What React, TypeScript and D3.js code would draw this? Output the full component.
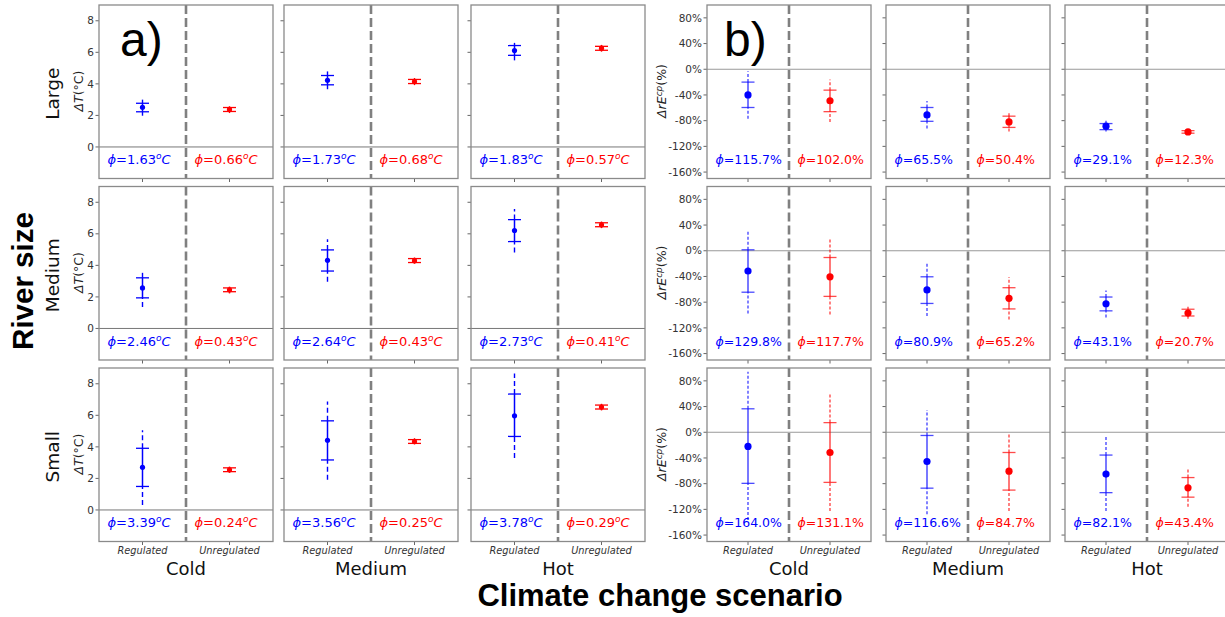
import React from 'react';
import * as d3 from 'd3';

// Facets
const riverSizes = ['Large', 'Medium', 'Small'];
const scenarios = ['Cold', 'Medium', 'Hot'];
const groups = ['Regulated', 'Unregulated'];

// ΔT (°C) — rows: river size, columns: scenario
const dTRegMean = [[2.51, 4.23, 6.11], [2.57, 4.32, 6.21], [2.70, 4.42, 5.97]];
const dTRegSd = [
  [[2.23, 2.77], [3.94, 4.53], [5.81, 6.43]],
  [[1.94, 3.21], [3.64, 4.98], [5.51, 6.90]],
  [[1.49, 3.91], [3.17, 5.65], [4.66, 7.35]],
];
const dTRegRange = [
  [[1.98, 3.0], [3.66, 4.79], [5.49, 6.6]],
  [[1.36, 3.70], [2.96, 5.66], [4.81, 7.57]],
  [[0.32, 5.05], [1.91, 6.88], [3.29, 8.65]],
];
const dTUnregMean = [[2.38, 4.15, 6.26], [2.45, 4.30, 6.57], [2.55, 4.34, 6.52]];
const dTUnregSd = [
  [[2.25, 2.50], [4.02, 4.28], [6.13, 6.38]],
  [[2.33, 2.57], [4.18, 4.43], [6.45, 6.70]],
  [[2.43, 2.67], [4.22, 4.46], [6.40, 6.65]],
];
const dTUnregRange = [
  [[2.15, 2.58], [3.92, 4.37], [6.04, 6.47]],
  [[2.22, 2.65], [4.10, 4.50], [6.36, 6.78]],
  [[2.35, 2.75], [4.15, 4.55], [6.31, 6.73]],
];
const dTRegPhi = [[1.63, 1.73, 1.83], [2.46, 2.64, 2.73], [3.39, 3.56, 3.78]];
const dTUnregPhi = [[0.66, 0.68, 0.57], [0.43, 0.43, 0.41], [0.24, 0.25, 0.29]];

// ΔrE^cp (%)
const dERegMean = [[-40, -71, -88.5], [-31.5, -61, -82.5], [-22, -45.5, -65]];
const dERegSd = [
  [[-59.5, -20], [-81, -59.5], [-94, -84.5]],
  [[-64.5, 1.5], [-82, -40.5], [-93.5, -72]],
  [[-79.5, 36.5], [-87, -5], [-94, -35.5]],
];
const dERegRange = [
  [[-77, -3], [-92, -49.5], [-97, -80]],
  [[-97.5, 32.5], [-101.5, -20], [-104, -62]],
  [[-136.5, 94], [-127.5, 34.5], [-122.5, -7.5]],
];
const dEUnregMean = [[-49, -82, -97.5], [-40.5, -74, -97], [-31.5, -60.5, -86.5]];
const dEUnregSd = [
  [[-66, -32.5], [-90.5, -73], [-99.5, -95.5]],
  [[-71, -10.5], [-90.5, -57.5], [-101.5, -91]],
  [[-78, 15], [-90, -31.5], [-101, -70.5]],
];
const dEUnregRange = [
  [[-82, -16], [-97, -66], [-101, -94]],
  [[-99, 19], [-107, -41], [-106, -87]],
  [[-122.5, 60.5], [-122.5, -0.5], [-116, -57]],
];
const dERegPhi = [[115.7, 65.5, 29.1], [129.8, 80.9, 43.1], [164.0, 116.6, 82.1]];
const dEUnregPhi = [[102.0, 50.4, 12.3], [117.7, 65.2, 20.7], [131.1, 84.7, 43.4]];

const tempTicks = [0, 2, 4, 6, 8];
const effTicks = [80, 40, 0, -40, -80, -120, -160];

const W = 1225;
const H = 617;
const FONT = '"DejaVu Sans", sans-serif';
const BOLD = '"Liberation Sans", Arial, sans-serif';
const BLUE = '#0000ff';
const RED = '#ff0000';
const FRAME = '#8a8a8a';

const rowTops = [5, 186.5, 368];
const rowH = 173.5;
const aLefts = [99, 284, 471];
const aW = 174;
const bLefts = [707, 886, 1065];
const bW = 164;

type Stat = { mean: number; sd: number[]; range: number[] };

function ErrorMark({ x, y, s, color, r, dash, alpha }: { x: number; y: d3.ScaleLinear<number, number>; s: Stat; color: string; r: number; dash: string; alpha: number }) {
  const cap = 6.5;
  return (
    <g>
      <line x1={x} x2={x} y1={y(s.range[0])} y2={y(s.sd[0])} stroke={color} strokeWidth={1.4} strokeDasharray={dash} opacity={alpha} />
      <line x1={x} x2={x} y1={y(s.sd[1])} y2={y(s.range[1])} stroke={color} strokeWidth={1.4} strokeDasharray={dash} opacity={alpha} />
      <line x1={x} x2={x} y1={y(s.sd[0])} y2={y(s.sd[1])} stroke={color} strokeWidth={1.5} opacity={alpha} />
      <line x1={x - cap} x2={x + cap} y1={y(s.sd[0])} y2={y(s.sd[0])} stroke={color} strokeWidth={1.3} opacity={alpha} />
      <line x1={x - cap} x2={x + cap} y1={y(s.sd[1])} y2={y(s.sd[1])} stroke={color} strokeWidth={1.3} opacity={alpha} />
      <circle cx={x} cy={y(s.mean)} r={r} fill={color} />
    </g>
  );
}

function PhiLabel({ x, y, value, color, kind }: { x: number; y: number; value: number; color: string; kind: 'a' | 'b' }) {
  if (kind === 'a') {
    return (
      <text x={x} y={y} fill={color} fontFamily={FONT} fontSize={13}>
        <tspan fontStyle="italic">ϕ</tspan>={value.toFixed(2)}
        <tspan fontStyle="italic" fontSize={9} dy={-5}>o</tspan>
        <tspan fontStyle="italic" dy={5}>C</tspan>
      </text>
    );
  }
  return (
    <text x={x} y={y} fill={color} fontFamily={FONT} fontSize={12.5}>
      <tspan fontStyle="italic">ϕ</tspan>={value.toFixed(1)}%
    </text>
  );
}

function Panel(props: {
  left: number; top: number; width: number; kind: 'a' | 'b';
  reg: Stat; unreg: Stat; regPhi: number; unregPhi: number;
  showY: boolean; showX: boolean;
}) {
  const { left, top, width, kind, reg, unreg, regPhi, unregPhi, showY, showX } = props;
  const bottom = top + rowH;
  const y = d3.scaleLinear().domain(kind === 'a' ? [-2, 9] : [-170, 100]).range([bottom, top]);
  const x = d3.scalePoint<string>().domain(groups).range([left, left + width]).padding(0.5);
  const ticks = kind === 'a' ? tempTicks : effTicks;
  const mid = left + width / 2;
  const dash = kind === 'a' ? '5,3' : '3,2';
  const alpha = kind === 'a' ? 1 : 0.7;
  const r = kind === 'a' ? 2.6 : 3.6;
  return (
    <g>
      <line x1={left} x2={left + width} y1={y(0)} y2={y(0)} stroke={kind === 'a' ? '#777' : '#999'} strokeWidth={1} />
      {ticks.map((t) => (
        <g key={t}>
          <line x1={left - 3.5} x2={left} y1={y(t)} y2={y(t)} stroke="#555" strokeWidth={0.9} />
          {showY && (
            <text x={left - 5} y={y(t)} dy="0.35em" textAnchor="end" fontFamily={FONT} fontSize={10.5} fill="#333">
              {kind === 'a' ? String(t) : `${t}%`}
            </text>
          )}
        </g>
      ))}
      {groups.map((g) => (
        <g key={g}>
          <line x1={x(g)} x2={x(g)} y1={bottom} y2={bottom + 3.5} stroke="#555" strokeWidth={0.9} />
          {showX && (
            <text x={x(g)} y={bottom + 12} textAnchor="middle" fontFamily={FONT} fontSize={9.8} fontStyle="italic" fill="#333">
              {g}
            </text>
          )}
        </g>
      ))}
      <line x1={mid} x2={mid} y1={top} y2={bottom} stroke="#808080" strokeWidth={2.6} strokeDasharray="9,4" />
      <ErrorMark x={x('Regulated')!} y={y} s={reg} color={BLUE} r={r} dash={dash} alpha={alpha} />
      <ErrorMark x={x('Unregulated')!} y={y} s={unreg} color={RED} r={r} dash={dash} alpha={alpha} />
      <PhiLabel x={left + 8.5} y={bottom - 14.5} value={regPhi} color={BLUE} kind={kind} />
      <PhiLabel x={mid + 8.5} y={bottom - 14.5} value={unregPhi} color={RED} kind={kind} />
      <rect x={left} y={top} width={width} height={rowH} fill="none" stroke={FRAME} strokeWidth={1.3} />
    </g>
  );
}

export default function App() {
  const panels: React.ReactNode[] = [];
  riverSizes.forEach((_, ri) => {
    scenarios.forEach((sc, ci) => {
      panels.push(
        <Panel
          key={`a-${ri}-${ci}`}
          left={aLefts[ci]} top={rowTops[ri]} width={aW} kind="a"
          reg={{ mean: dTRegMean[ri][ci], sd: dTRegSd[ri][ci], range: dTRegRange[ri][ci] }}
          unreg={{ mean: dTUnregMean[ri][ci], sd: dTUnregSd[ri][ci], range: dTUnregRange[ri][ci] }}
          regPhi={dTRegPhi[ri][ci]} unregPhi={dTUnregPhi[ri][ci]}
          showY={ci === 0} showX={ri === riverSizes.length - 1}
        />,
      );
      panels.push(
        <Panel
          key={`b-${ri}-${ci}`}
          left={bLefts[ci]} top={rowTops[ri]} width={bW} kind="b"
          reg={{ mean: dERegMean[ri][ci], sd: dERegSd[ri][ci], range: dERegRange[ri][ci] }}
          unreg={{ mean: dEUnregMean[ri][ci], sd: dEUnregSd[ri][ci], range: dEUnregRange[ri][ci] }}
          regPhi={dERegPhi[ri][ci]} unregPhi={dEUnregPhi[ri][ci]}
          showY={ci === 0} showX={ri === riverSizes.length - 1}
        />,
      );
    });
  });

  return (
    <svg width={W} height={H} viewBox={`0 0 ${W} ${H}`} style={{ position: 'absolute', left: 0, top: 0, background: '#fff' }}>
      <rect width={W} height={H} fill="#fff" />
      {panels}

      {/* row labels and per-row y-axis titles */}
      {riverSizes.map((s, ri) => {
        const cy = rowTops[ri] + rowH / 2 + 2;
        const ya = rowTops[ri] + 86;
        return (
          <g key={s}>
            <text transform={`translate(59,${cy}) rotate(-90)`} textAnchor="middle" fontFamily={FONT} fontSize={18.5} fill="#111">{s}</text>
            <text transform={`translate(83,${ya}) rotate(-90)`} textAnchor="middle" fontFamily={FONT} fontSize={12.5} fill="#222">
              <tspan fontStyle="italic">ΔT</tspan>(°C)
            </text>
            <text transform={`translate(666,${ya}) rotate(-90)`} textAnchor="middle" fontFamily={FONT} fontSize={12.5} fill="#222">
              <tspan fontStyle="italic">ΔrE</tspan>
              <tspan fontStyle="italic" fontSize={9} dy={-4.5}>cp</tspan>
              <tspan dy={4.5}>(%)</tspan>
            </text>
          </g>
        );
      })}

      {/* scenario labels */}
      {scenarios.map((sc, ci) => (
        <g key={sc}>
          <text x={aLefts[ci] + aW / 2} y={575} textAnchor="middle" fontFamily={FONT} fontSize={18} fill="#111">{sc}</text>
          <text x={bLefts[ci] + bW / 2} y={575} textAnchor="middle" fontFamily={FONT} fontSize={18} fill="#111">{sc}</text>
        </g>
      ))}

      <text x={120} y={56} fontFamily={BOLD} fontSize={48} fill="#000">a)</text>
      <text x={724} y={56} fontFamily={BOLD} fontSize={48} fill="#000">b)</text>

      <text transform="translate(33,281) rotate(-90)" textAnchor="middle" fontFamily={BOLD} fontWeight="bold" fontSize={29.5} fill="#000">River size</text>
      <text x={660} y={606} textAnchor="middle" fontFamily={BOLD} fontWeight="bold" fontSize={31} fill="#000">Climate change scenario</text>
    </svg>
  );
}
